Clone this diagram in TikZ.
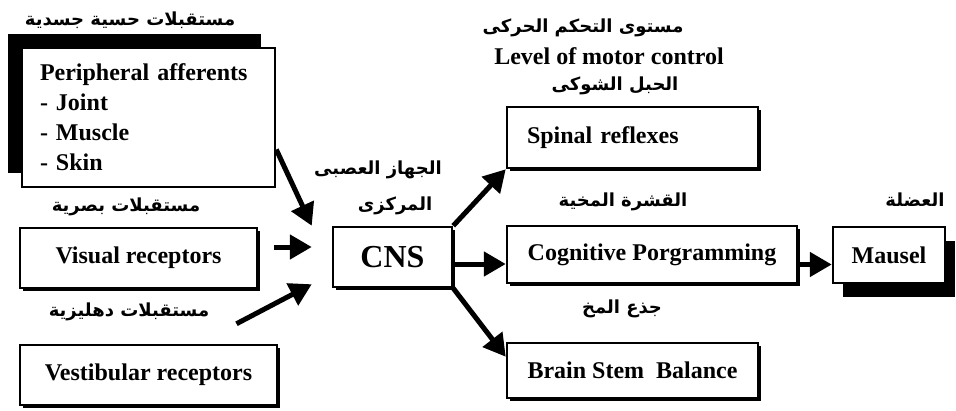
\documentclass[tikz,border=0pt]{standalone}
\usepackage{fontspec}
\setmainfont{Liberation Serif}
\newfontfamily\arabicfont[Script=Arabic]{DejaVu Sans Bold}
\TeXXeTstate=1
\usetikzlibrary{arrows.meta,shadows,calc}
\newcommand{\artxt}[1]{{\arabicfont\beginR #1\endR}}
\begin{document}
\begin{tikzpicture}[x=1pt,y=-1pt,
  box/.style={draw, line width=2.5pt, fill=white, inner sep=0pt,
    font=\bfseries\fontsize{24}{30}\selectfont},
  shsmall/.style={drop shadow={shadow xshift=3pt, shadow yshift=-3pt, fill=black, opacity=1}},
  shbig/.style={drop shadow={shadow xshift=10pt, shadow yshift=-14pt, fill=black, opacity=1}},
  shup/.style={drop shadow={shadow xshift=-14pt, shadow yshift=14pt, fill=black, opacity=1}},
  lab/.style={inner sep=0pt, font=\fontsize{18}{22}\selectfont},
  entxt/.style={inner sep=0pt, font=\bfseries\fontsize{24}{30}\selectfont},
  arr/.style={line width=5pt, -{Triangle[length=22pt,width=24pt]}}
]
\useasboundingbox (0,0) rectangle (956,410);

% boxes
\node[box, shup, minimum width=253pt, minimum height=139pt, text width=217pt, align=left]
  (periph) at (148.5,117.5) {Peripheral afferents\\- Joint\\- Muscle\\- Skin};
\node[box, shsmall, minimum width=237pt, minimum height=60pt] (visual) at (138.5,258) {Visual receptors};
\node[box, shsmall, minimum width=257pt, minimum height=60pt] (vest) at (148.5,375) {Vestibular receptors};
\node[box, shsmall, minimum width=119pt, minimum height=60pt, font=\bfseries\fontsize{32}{36}\selectfont] (cns) at (392.5,257) {CNS};
\node[box, shsmall, minimum width=251pt, minimum height=61pt, text width=211pt, align=left] (spinal) at (632.5,137.5) {Spinal reflexes};
\node[box, shsmall, minimum width=290pt, minimum height=57pt] (cog) at (652,254.5) {Cognitive Porgramming};
\node[box, shsmall, minimum width=251pt, minimum height=55pt] (brain) at (632.5,370.5) {Brain Stem\ \ Balance};
\node[box, shbig, minimum width=112pt, minimum height=56pt] (mausel) at (889,255) {Mausel};

% labels
\node[lab] (l1) at (130,20) {\artxt{مستقبلات حسية جسدية}};
\node[lab] (l2) at (126,207) {\artxt{مستقبلات بصرية}};
\node[lab] (l3) at (129,312) {\artxt{مستقبلات دهليزية}};
\node[lab] (l4) at (378,170) {\artxt{الجهاز العصبى}};
\node[lab] (l5) at (395,206) {\artxt{المركزى}};
\node[lab] (l6) at (583,28) {\artxt{مستوى التحكم الحركى}};
\node[entxt] (l7) at (609,56) {Level of motor control};
\node[lab] (l8) at (615,86) {\artxt{الحبل الشوكى}};
\node[lab] (l9) at (623,202) {\artxt{القشرة المخية}};
\node[lab] (l10) at (622,309) {\artxt{جذع المخ}};
\node[lab] (l11) at (915,200) {\artxt{العضلة}};

% arrows
\draw[arr] ([yshift=-32pt]periph.east) -- ([xshift=-20pt]cns.north west);
\draw[arr] ([shift={(16pt,11pt)}]visual.east) -- ([shift={(-20pt,10pt)}]cns.west);
\draw[arr] ([shift={(88pt,20pt)}]vest.north) -- ([shift={(-20pt,4pt)}]cns.south west);
\draw[arr] (cns.north east) -- (spinal.south west);
\draw[arr] ([yshift=-7pt]cns.east) -- ([yshift=-7pt]cns.east -| cog.west);
\draw[arr] (cns.south east) -- ([yshift=-15pt]brain.north west);
\draw[arr] ([yshift=-10pt]cog.east) -- ([yshift=-10pt]cog.east -| mausel.west);
\end{tikzpicture}
\end{document}
